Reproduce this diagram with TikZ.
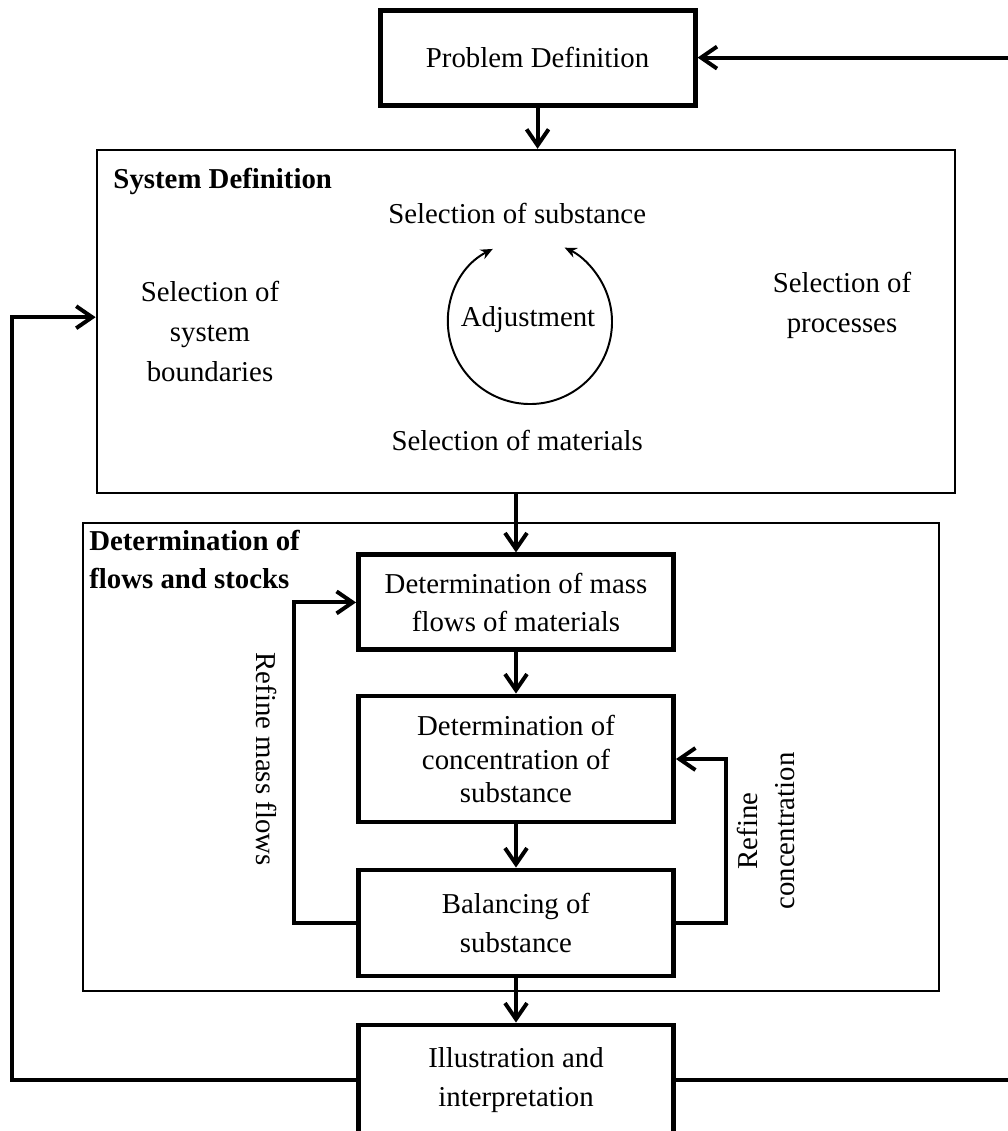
\documentclass[tikz,border=0pt]{standalone}
\usepackage{fontspec}
\setmainfont{Liberation Serif}
\usetikzlibrary{arrows.meta}
\usetikzlibrary{positioning}
\tikzset{
    stage/.style={
        draw,
        line width=3.5pt,
        minimum width=7.875cm,
        align=center,
        font=\fontsize{20.5}{27.5}\selectfont
    },
    outerbox/.style={
        draw,
        line width=1.9pt,
        inner sep=0pt
    },
    seltext/.style={
        align=center,
        font=\fontsize{20.5}{28.5}\selectfont
    },
    headtext/.style={
        align=left,
        inner sep=0pt,
        font=\fontsize{20.5}{27}\selectfont\bfseries
    },
    flow/.style={
        line width=2.8pt,
        -{Straight Barb[length=4mm, width=5.5mm]}
    }
}

\begin{document}
\begin{tikzpicture}
  \clip (0,0) rectangle (25.2,-28.275);

  % Problem definition
  \node[stage, minimum height=2.375cm] (problem) at (13.44,-1.44) {Problem Definition};

  % System definition
  \node[outerbox, minimum width=21.45cm, minimum height=8.575cm] (sysdef) at (13.15,-8.04) {};
  \node[headtext, anchor=base west] (sysname) at (2.83,-4.70) {System Definition};
  \node[seltext] (substance) at (12.93,-5.33) {Selection of substance};
  \node[seltext] (boundaries) at (5.25,-8.28) {Selection of\\system\\boundaries};
  \node[seltext] (processes) at (21.05,-7.64) {Selection of\\processes};
  \node[seltext] (materials) at (12.93,-11.0) {Selection of materials};
  \node[seltext] (adjust) at (13.2,-8.0) {Adjustment};
  \coordinate (adjc) at (13.25,-8.05);
  \draw[line width=1.4pt, {Stealth[length=3mm, width=2.6mm]}-{Stealth[length=3mm, width=2.6mm]}]
    ([shift={(117:2.05)}]adjc) arc[start angle=117, end angle=425, radius=2.05];

  % Determination of flows and stocks
  \node[outerbox, minimum width=21.4cm, minimum height=11.7cm] (flows) at (12.775,-18.925) {};
  \node[headtext, anchor=north west] (flowsname) at (2.225,-13.25) {Determination of\\flows and stocks};
  \node[stage, minimum height=2.375cm] (mass) at (12.9,-15.06) {Determination of mass\\flows of materials};
  \node[stage, minimum height=3.15cm, font=\fontsize{20.5}{23.5}\selectfont] (conc) at (12.9,-18.975) {Determination of\\concentration of\\substance};
  \node[stage, minimum height=2.65cm] (balance) at (12.9,-23.075) {Balancing of\\substance};
  \node[stage, minimum height=2.75cm] (illus) at (12.9,-27.0) {Illustration and\\interpretation};

  % Main flow
  \draw[flow] (problem) -- (problem |- sysdef.north);
  \draw[flow] (sysdef.south -| mass.north) -- (mass);
  \draw[flow] (mass) -- (conc);
  \draw[flow] (conc) -- (balance);
  \draw[flow] (balance) -- (illus);

  % Refinement loops
  \draw[flow] (balance.west) -- ++(-1.54,0) |- (mass.west);
  \node[seltext, rotate=-90] (refmass) at (6.675,-18.975) {Refine mass flows};
  \draw[flow] (balance.east) -- ++(1.26,0) |- (conc.east);
  \node[seltext, rotate=90, font=\fontsize{20.5}{27}\selectfont] (refconc) at (19.15,-20.775) {Refine\\concentration};

  % Feedback
  \coordinate (leftturn) at (0.3,-27.0);
  \coordinate (rightturn) at (25.4,-27.0);
  \draw[flow] (illus.west) -- (leftturn) |- ([yshift=0.11cm]sysdef.west);
  \draw[flow] (illus.east) -- (rightturn) |- (problem.east);
\end{tikzpicture}
\end{document}
